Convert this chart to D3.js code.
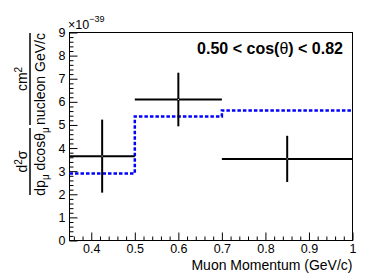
<!DOCTYPE html>
<html>
<head>
<meta charset="utf-8">
<script src="https://cdn.jsdelivr.net/npm/d3@7"></script>
<style>
  body { margin: 0; background: #fff; }
  svg { display: block; font-family: "Liberation Sans", Arial, Helvetica, sans-serif; }
</style>
</head>
<body>
<svg width="387" height="273"></svg>
<script>
// Data (cross section in units of 1e-39 cm^2 / nucleon GeV/c)
var binEdges = [0.35, 0.5, 0.7, 1.0];
var xsec = [3.65, 6.1, 3.53];
var xsecErr = [1.58, 1.16, 1.0];
var model = [2.9, 5.37, 5.63];

var xTicks = [0.4, 0.5, 0.6, 0.7, 0.8, 0.9, 1.0];
var xTickLabels = ["0.4", "0.5", "0.6", "0.7", "0.8", "0.9", "1"];
var yTicks = [0, 1, 2, 3, 4, 5, 6, 7, 8, 9];

// frame edges (window.top is read-only, so prefix them)
var padL = 69.5, padR = 352.5, padT = 32.5, padB = 240.5;

var svg = d3.select('svg');

var x = d3.scaleLinear().domain([0.35, 1.0]).range([padL, padR]);
var y = d3.scaleLinear().domain([0, 9]).range([padB, padT]);

// minor ticks
var xMinor = d3.range(0.36, 1.001, 0.02).filter(function (v) {
  return Math.abs(v * 10 - Math.round(v * 10)) > 0.01;
});
var yMinor = d3.range(0, 9.001, 0.2).filter(function (v) {
  return Math.abs(v - Math.round(v)) > 0.01;
});

svg.append('g')
  .attr('transform', 'translate(0,' + padB + ')')
  .call(d3.axisBottom(x).tickValues(xMinor).tickSize(-4).tickFormat(''))
  .call(function (g) { g.select('.domain').remove(); });

svg.append('g')
  .attr('transform', 'translate(' + padL + ',0)')
  .call(d3.axisLeft(y).tickValues(yMinor).tickSize(-4).tickFormat(''))
  .call(function (g) { g.select('.domain').remove(); });

var xAxis = svg.append('g')
  .attr('transform', 'translate(0,' + padB + ')')
  .call(d3.axisBottom(x).tickValues(xTicks).tickSize(-8).tickPadding(4)
    .tickFormat(function (d, i) { return xTickLabels[i]; }));
xAxis.select('.domain').remove();

var yAxis = svg.append('g')
  .attr('transform', 'translate(' + padL + ',0)')
  .call(d3.axisLeft(y).tickValues(yTicks).tickSize(-8).tickPadding(4)
    .tickFormat(d3.format('d')));
yAxis.select('.domain').remove();

svg.selectAll('.tick text')
  .attr('font-size', 12.5)
  .attr('font-family', '"Liberation Sans", Arial, sans-serif')
  .attr('fill', '#000');
svg.selectAll('.tick line').attr('stroke', '#000');

// frame
svg.append('rect')
  .attr('x', padL).attr('y', padT)
  .attr('width', padR - padL).attr('height', padB - padT)
  .attr('fill', 'none').attr('stroke', '#000').attr('stroke-width', 1);

// model (blue dashed step)
var stepPts = model.map(function (m, i) { return [binEdges[i], m]; });
stepPts.push([binEdges[binEdges.length - 1], model[model.length - 1]]);
svg.append('path')
  .datum(stepPts)
  .attr('d', d3.line()
    .x(function (d) { return x(d[0]); })
    .y(function (d) { return y(d[1]); })
    .curve(d3.curveStepAfter))
  .attr('fill', 'none')
  .attr('stroke', '#0000ff')
  .attr('stroke-width', 2.5)
  .attr('stroke-dasharray', '3.5,2');

// data points with error bars
var pts = xsec.map(function (v, i) {
  return { lo: binEdges[i], hi: binEdges[i + 1], v: v, e: xsecErr[i] };
});
var pg = svg.append('g').attr('stroke', '#000').attr('stroke-width', 2);
pg.selectAll('.hbar').data(pts).enter().append('line')
  .attr('x1', function (d) { return x(d.lo); })
  .attr('x2', function (d) { return x(d.hi); })
  .attr('y1', function (d) { return y(d.v); })
  .attr('y2', function (d) { return y(d.v); });
pg.selectAll('.vbar').data(pts).enter().append('line')
  .attr('x1', function (d) { return x((d.lo + d.hi) / 2); })
  .attr('x2', function (d) { return x((d.lo + d.hi) / 2); })
  .attr('y1', function (d) { return y(d.v - d.e); })
  .attr('y2', function (d) { return y(d.v + d.e); });
svg.selectAll('.dot').data(pts).enter().append('rect')
  .attr('x', function (d) { return x((d.lo + d.hi) / 2) - 0.5; })
  .attr('y', function (d) { return y(d.v) - 0.5; })
  .attr('width', 1).attr('height', 1)
  .attr('fill', '#fff');

// exponent label
var ex = svg.append('text').attr('x', 68).attr('y', 29).attr('font-size', 12.5);
ex.append('tspan').text('×10');
ex.append('tspan').attr('dy', -7).attr('font-size', 9).text('−39');

// panel title
var t = svg.append('text')
  .attr('x', 343).attr('y', 54)
  .attr('text-anchor', 'end')
  .attr('font-size', 16).attr('font-weight', 'bold');
t.append('tspan').text('0.50 < cos(');
t.append('tspan').attr('font-weight', 'normal').text('θ');
t.append('tspan').text(') < 0.82');

// x title
svg.append('text')
  .attr('x', padR).attr('y', 269.5)
  .attr('text-anchor', 'end')
  .attr('font-size', 14)
  .text('Muon Momentum (GeV/c)');

// y title: two stacked fractions, rotated
var yt = svg.append('g').attr('transform', 'rotate(-90)').attr('font-size', 14);

function frac(y0, y1, numBuild, denBuild) {
  var c = -(y0 + y1) / 2;
  yt.append('line')
    .attr('x1', -y1).attr('x2', -y0)
    .attr('y1', 30).attr('y2', 30)
    .attr('stroke', '#000').attr('stroke-width', 1.5);
  numBuild(yt.append('text').attr('x', c).attr('y', 27).attr('text-anchor', 'middle'));
  denBuild(yt.append('text').attr('x', c).attr('y', 45).attr('text-anchor', 'middle'));
}

frac(128, 195, function (n) {
  n.append('tspan').text('d');
  n.append('tspan').attr('dy', -5).attr('font-size', 10).text('2');
  n.append('tspan').attr('dy', 5).text('σ');
}, function (d) {
  d.append('tspan').text('dp');
  d.append('tspan').attr('dy', 4).attr('font-size', 10).text('μ');
  d.append('tspan').attr('dy', -4).text(' dcosθ');
  d.append('tspan').attr('dy', 4).attr('font-size', 10).text('μ');
});

frac(33, 125, function (n) {
  n.append('tspan').text('cm');
  n.append('tspan').attr('dy', -5).attr('font-size', 10).text('2');
}, function (d) {
  d.append('tspan').text('nucleon GeV/c');
});
</script>
</body>
</html>
